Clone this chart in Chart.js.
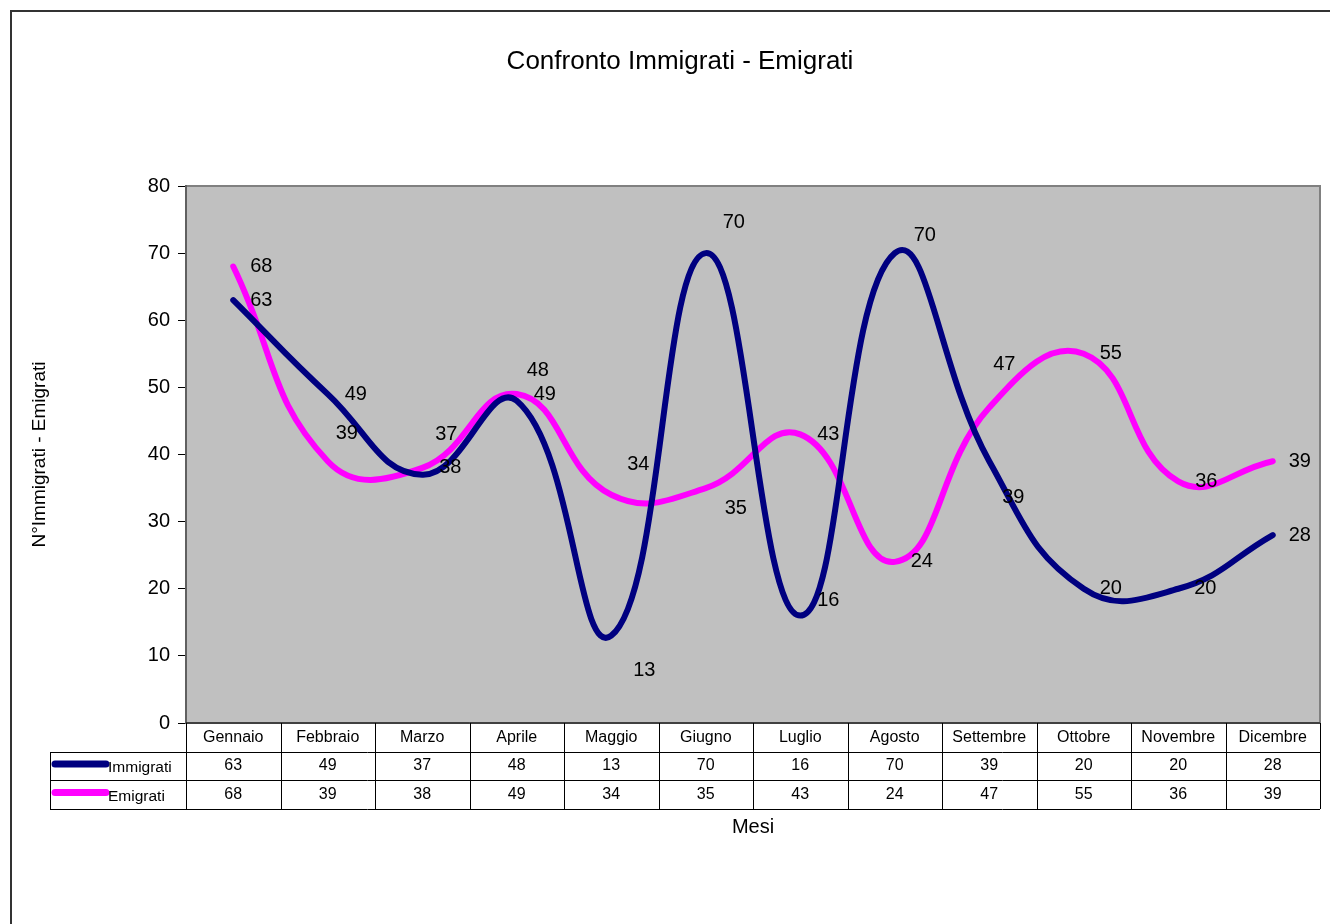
<!DOCTYPE html>
<html>
<head>
<meta charset="utf-8">
<script src="https://cdn.jsdelivr.net/npm/chart.js@4"></script>
<style>
  html, body { margin: 0; padding: 0; background: #fff; }
  #wrap { width: 1330px; height: 924px; }
</style>
</head>
<body>
<div id="wrap"><canvas id="lineChart" width="1330" height="924"></canvas></div>
<script>
const months = ["Gennaio", "Febbraio", "Marzo", "Aprile", "Maggio", "Giugno",
    "Luglio", "Agosto", "Settembre", "Ottobre", "Novembre", "Dicembre"];
const immigrati = [63, 49, 37, 48, 13, 70, 16, 70, 39, 20, 20, 28];
const emigrati = [68, 39, 38, 49, 34, 35, 43, 24, 47, 55, 36, 39];
const yTicks = [0, 10, 20, 30, 40, 50, 60, 70, 80];

// label nudges (pixels) where the labels were moved off the default right position
const immLabelShift = [[28, 0], [28, 0], [24, -40], [21, -30], [33, 35], [28, -31], [28, -15], [30, -18], [24, 36], [27, 0], [27, 0], [27, 0]];
const emiLabelShift = [[28, 0], [19, -28], [28, 0], [28, 0], [27, -30], [30, 20], [28, 0], [27, 0], [15, -43], [27, 0], [28, 0], [27, 0]];

const FONT = "Arial, 'Liberation Sans', sans-serif";
const navy = "#000080";
const magenta = "#FF00FF";

// gray plot area + outer frame
const background = {
    id: 'background',
    beforeDraw(chart) {
        const { ctx, chartArea: a } = chart;
        ctx.save();
        ctx.fillStyle = "#fff";
        ctx.fillRect(0, 0, chart.width, chart.height);
        ctx.fillStyle = "#C0C0C0";
        ctx.fillRect(a.left, a.top, a.right - a.left, a.bottom - a.top);
        ctx.strokeStyle = "#808080";
        ctx.lineWidth = 2;
        ctx.strokeRect(a.left, a.top, a.right - a.left, a.bottom - a.top);
        ctx.restore();
    },
    afterDraw(chart) {
        const ctx = chart.ctx;
        ctx.save();
        ctx.strokeStyle = "#333";
        ctx.lineWidth = 2;
        ctx.strokeRect(11, 11, chart.width + 50, chart.height + 50);
        ctx.restore();
    }
};

// texts: title, axis titles, point labels
const texts = {
    id: 'texts',
    afterDatasetsDraw(chart) {
        const { ctx, chartArea: a } = chart;
        ctx.save();
        ctx.fillStyle = "#000";
        ctx.textAlign = "center";
        ctx.textBaseline = "middle";
        ctx.font = "26px " + FONT;
        ctx.fillText("Confronto Immigrati - Emigrati", 680, 62);
        ctx.font = "20px " + FONT;
        ctx.fillText("Mesi", (a.left + a.right) / 2, 827);
        ctx.save();
        ctx.translate(40, (a.top + a.bottom) / 2);
        ctx.rotate(-Math.PI / 2);
        ctx.font = "19px " + FONT;
        ctx.fillText("N°Immigrati - Emigrati", 0, 0);
        ctx.restore();

        ctx.font = "20px " + FONT;
        const shifts = [immLabelShift, emiLabelShift];
        chart.data.datasets.forEach((ds, di) => {
            const meta = chart.getDatasetMeta(di);
            meta.data.forEach((pt, i) => {
                const s = shifts[di][i];
                ctx.fillText(String(ds.data[i]), pt.x + s[0], pt.y + s[1]);
            });
        });
        ctx.restore();
    }
};

// data table under the plot
const dataTable = {
    id: 'dataTable',
    afterDraw(chart) {
        const { ctx, chartArea: a, scales } = chart;
        const x = scales.x;
        const colW = (a.right - a.left) / months.length;
        const r0 = a.bottom, r1 = a.bottom + 29, r2 = r1 + 28, r3 = r2 + 29;
        const legL = 50;
        ctx.save();
        ctx.strokeStyle = "#000";
        ctx.lineWidth = 1;
        ctx.beginPath();
        ctx.moveTo(a.left, r0); ctx.lineTo(a.right, r0);
        [r1, r2, r3].forEach(y => { ctx.moveTo(legL, y + 0.5); ctx.lineTo(a.right, y + 0.5); });
        ctx.moveTo(legL + 0.5, r1); ctx.lineTo(legL + 0.5, r3);
        for (let k = 0; k <= months.length; k++) {
            const xx = Math.round(a.left + colW * k) + 0.5;
            ctx.moveTo(xx, r0); ctx.lineTo(xx, r3);
        }
        ctx.stroke();

        ctx.fillStyle = "#000";
        ctx.font = "16px " + FONT;
        ctx.textAlign = "center";
        ctx.textBaseline = "middle";
        months.forEach((m, i) => {
            const cx = x.getPixelForValue(i);
            ctx.fillText(m, cx, (r0 + r1) / 2);
            ctx.fillText(String(immigrati[i]), cx, (r1 + r2) / 2);
            ctx.fillText(String(emigrati[i]), cx, (r2 + r3) / 2);
        });

        // legend keys
        ctx.font = "15.5px " + FONT;
        const rows = [[navy, "Immigrati", (r1 + r2) / 2], [magenta, "Emigrati", (r2 + r3) / 2]];
        rows.forEach(([c, name, ym]) => {
            ctx.strokeStyle = c;
            ctx.lineWidth = 7;
            ctx.lineCap = "round";
            ctx.beginPath();
            ctx.moveTo(55, ym - 2);
            ctx.lineTo(106, ym - 2);
            ctx.stroke();
            ctx.textAlign = "left";
            ctx.fillText(name, 108, ym + 2);
        });
        ctx.restore();
    }
};

new Chart(document.getElementById('lineChart'), {
    type: 'line',
    data: {
        labels: months,
        datasets: [{
            label: "Immigrati",
            data: immigrati,
            borderColor: navy,
            borderWidth: 6,
            borderCapStyle: 'round',
            borderJoinStyle: 'round',
            pointRadius: 0,
            tension: 0.45,
            fill: false
        }, {
            label: "Emigrati",
            data: emigrati,
            borderColor: magenta,
            borderWidth: 6,
            borderCapStyle: 'round',
            borderJoinStyle: 'round',
            pointRadius: 0,
            tension: 0.45,
            fill: false
        }]
    },
    options: {
        responsive: false,
        animation: false,
        events: [],
        layout: {
            padding: { left: 126, top: 186, right: 10, bottom: 201 }
        },
        plugins: {
            legend: { display: false },
            title: { display: false },
            tooltip: { enabled: false }
        },
        scales: {
            x: {
                display: false,
                offset: true
            },
            y: {
                min: 0,
                max: 80,
                afterFit(scale) { scale.width = 60; },
                afterBuildTicks(scale) { scale.ticks = yTicks.map(v => ({ value: v })); },
                border: { display: true, color: "#606060", width: 2 },
                grid: {
                    drawOnChartArea: false,
                    drawTicks: true,
                    tickLength: 8,
                    color: "#000"
                },
                ticks: {
                    color: "#000",
                    padding: 8,
                    font: { family: FONT, size: 20 }
                }
            }
        }
    },
    plugins: [background, texts, dataTable]
});
</script>
</body>
</html>
